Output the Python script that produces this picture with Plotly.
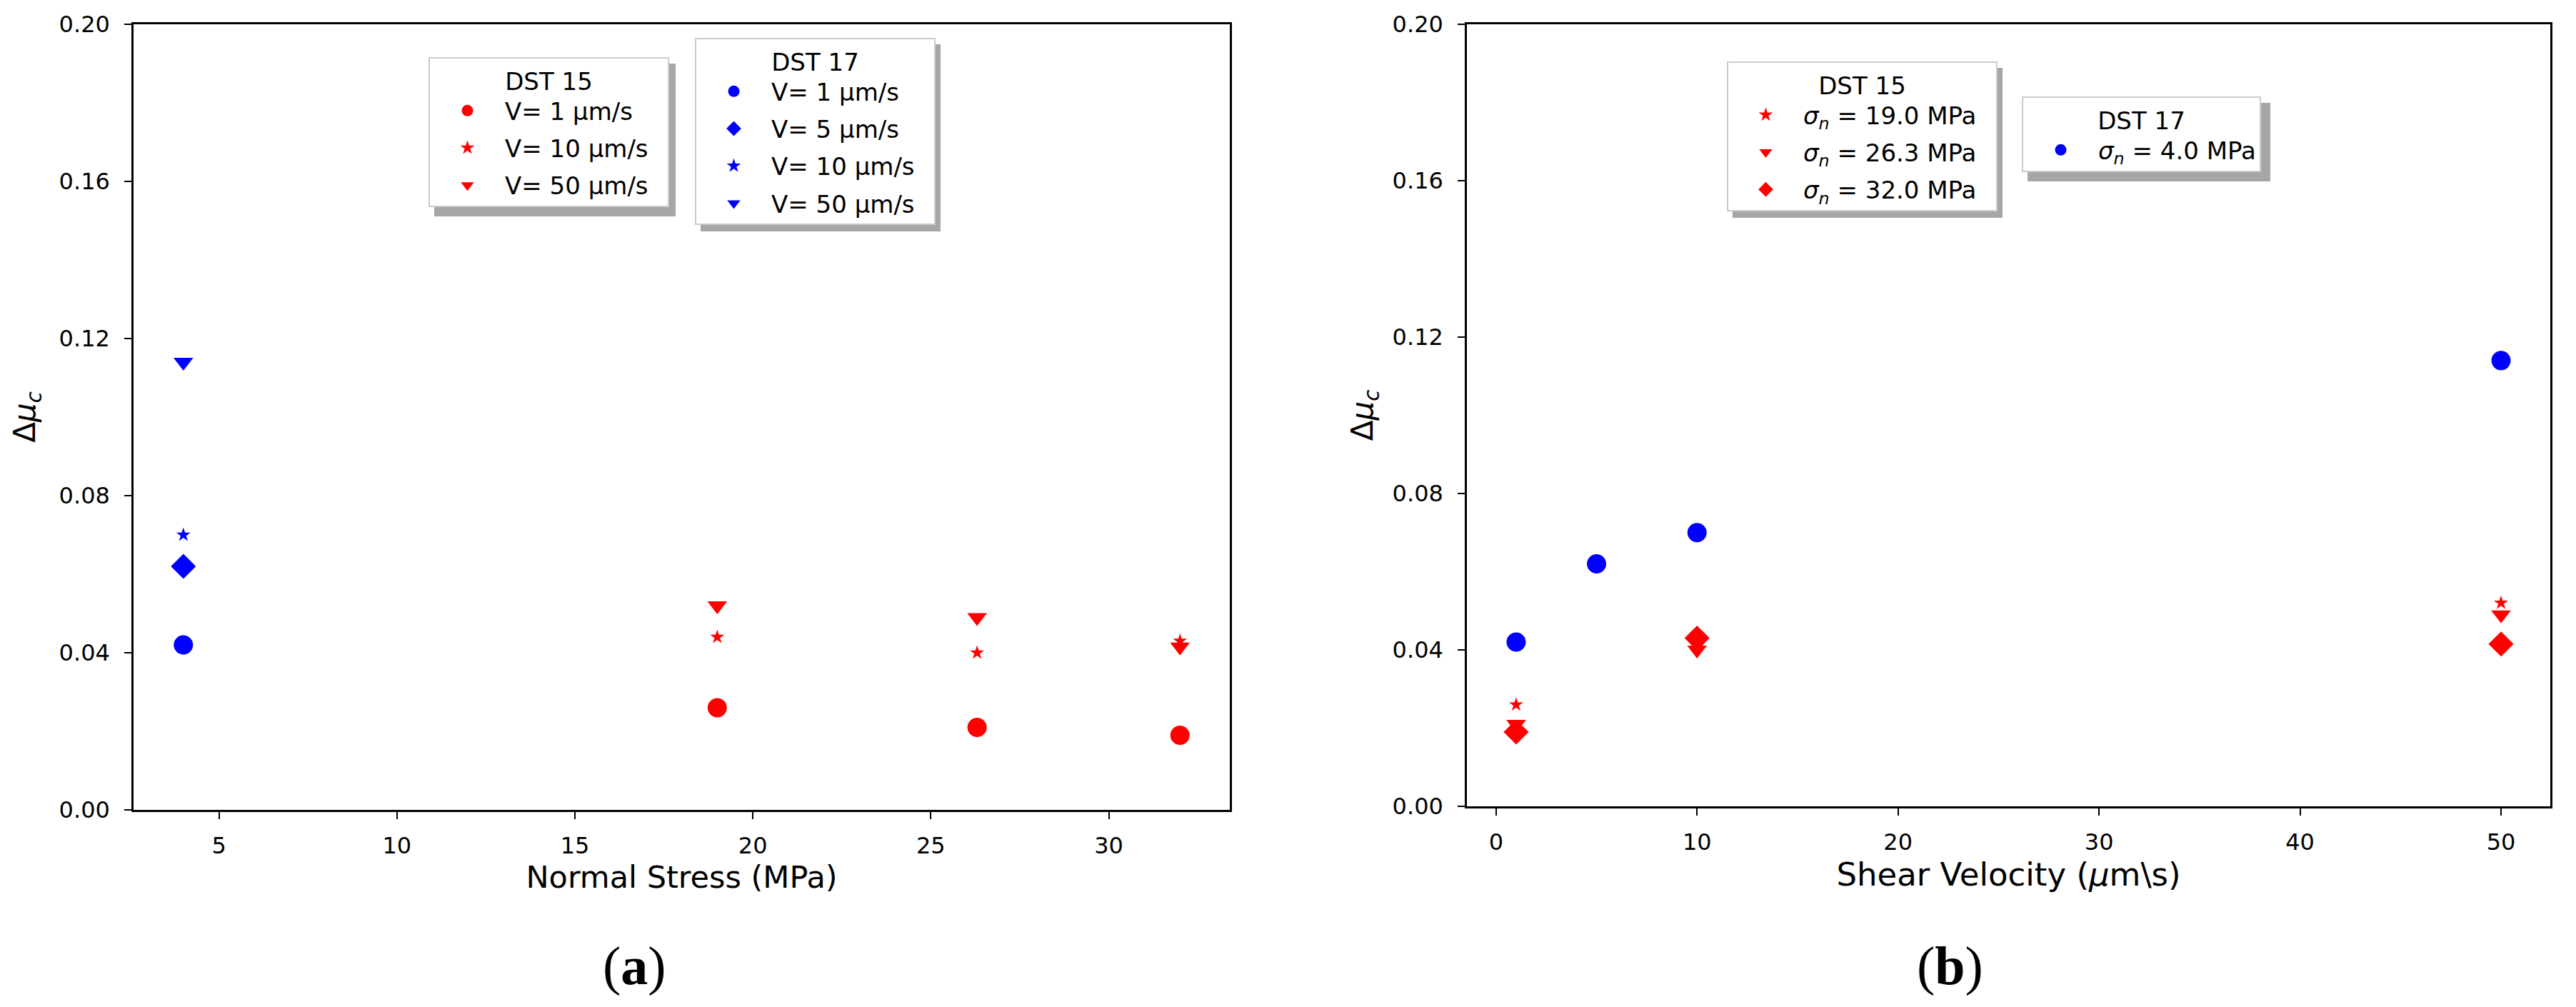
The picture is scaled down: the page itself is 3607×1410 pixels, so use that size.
import plotly.graph_objects as go

# DST 15 : normal stress levels and friction change at each shear velocity
stress_15 = [19.0, 26.3, 32.0]
velocity_15 = [1, 10, 50]
dmu_15_v1 = [0.026, 0.021, 0.019]
dmu_15_v10 = [0.044, 0.040, 0.043]
dmu_15_v50 = [0.052, 0.049, 0.0415]

# DST 17 : single normal stress, four velocities
stress_17 = 4.0
velocity_17 = [1, 5, 10, 50]
dmu_17 = [0.042, 0.062, 0.070, 0.114]

RED = "#ff0000"
BLUE = "#0000ff"
FONT = "DejaVu Sans"
PAD = "&nbsp;&nbsp;"  # a bit of right padding inside the legend boxes

# figure size and fixed margins (px); the page body adds an 8px offset
W, H = 3607, 1410
OFF = 8
ML, MR, MT, MB = 187 - OFF, 36 + OFF, 34 - OFF, 276 + OFF
PW, PH = W - ML - MR, H - MT - MB


def px(x):
    return (x - OFF - ML) / PW


def py(y):
    return (H - MB + OFF - y) / PH


fig = go.Figure()

# ---- panel (a): vs normal stress
v_labels = {1: "V= 1 µm/s", 5: "V= 5 µm/s", 10: "V= 10 µm/s", 50: "V= 50 µm/s"}
sym = {1: "circle", 5: "diamond", 10: "star", 50: "triangle-down"}
size = {"circle": 27, "diamond": 27, "star": 15, "triangle-down": 24}

for v, vals in zip(velocity_15, [dmu_15_v1, dmu_15_v10, dmu_15_v50]):
    fig.add_trace(go.Scatter(x=stress_15, y=vals, mode="markers", name=v_labels[v] + PAD,
                             marker=dict(color=RED, symbol=sym[v], size=size[sym[v]]),
                             xaxis="x", yaxis="y", legend="legend", legendgroup="a15_%d" % v))
for v, val in zip(velocity_17, dmu_17):
    fig.add_trace(go.Scatter(x=[stress_17], y=[val], mode="markers", name=v_labels[v] + PAD,
                             marker=dict(color=BLUE, symbol=sym[v], size=size[sym[v]]),
                             xaxis="x", yaxis="y", legend="legend2", legendgroup="a17_%d" % v))

# ---- panel (b): vs shear velocity
sig_sym = ["star", "triangle-down", "diamond"]
by_stress = list(zip(dmu_15_v1, dmu_15_v10, dmu_15_v50))
for s, sy, vals in zip(stress_15, sig_sym, by_stress):
    fig.add_trace(go.Scatter(x=velocity_15, y=list(vals), mode="markers",
                             name="<i>σ</i><sub><i>n</i></sub> = %.1f MPa" % s + PAD,
                             marker=dict(color=RED, symbol=sy, size=size[sy]),
                             xaxis="x2", yaxis="y2", legend="legend3", legendgroup="b15_%s" % s))
fig.add_trace(go.Scatter(x=velocity_17, y=dmu_17, mode="markers",
                         name="<i>σ</i><sub><i>n</i></sub> = %.1f MPa" % stress_17,
                         marker=dict(color=BLUE, symbol="circle", size=27),
                         xaxis="x2", yaxis="y2", legend="legend4", legendgroup="b17"))

ax_common = dict(showline=True, linecolor="black", linewidth=2.5, mirror=True,
                 ticks="outside", ticklen=10, tickwidth=2, tickcolor="black",
                 showgrid=False, zeroline=False, automargin=False,
                 tickfont=dict(family=FONT, size=32, color="black"))


def x_axis(dom, rng, dt, anchor, title, fsize, standoff):
    return dict(ax_common, domain=dom, range=rng, dtick=dt, anchor=anchor,
                ticklabelstandoff=10,
                title=dict(text=title, font=dict(family=FONT, size=fsize, color="black"),
                           standoff=standoff))


def y_axis(dom, anchor, standoff):
    return dict(ax_common, domain=dom, anchor=anchor, range=[0, 0.2], dtick=0.04,
                tickformat=".2f", ticklabelstandoff=14,
                title=dict(text="Δ<i>μ</i><sub><i>c</i></sub>",
                           font=dict(family=FONT, size=42, color="black"), standoff=standoff))


leg_common = dict(bgcolor="white", bordercolor="#cccccc", borderwidth=2,
                  font=dict(family=FONT, size=34, color="black"),
                  xanchor="left", yanchor="top", itemwidth=95,
                  traceorder="grouped", tracegroupgap=5)

# legend boxes: left, top (px) and approximate size for the drop shadow
boxes = {
    "legend": (600, 80, 338, 214, "DST 15"),
    "legend2": (973, 53, 336, 262, "DST 17"),
    "legend3": (2418, 86, 378, 210, "DST 15"),
    "legend4": (2831, 135, 340, 110, "DST 17"),
}

legends = {}
for key, (lx, ly, bw_, bh_, title) in boxes.items():
    legends[key] = dict(leg_common, x=px(lx), y=py(ly),
                        title=dict(text=title, side="top center",
                                   font=dict(family=FONT, size=34, color="black")))
    fig.add_shape(type="rect", xref="paper", yref="paper", layer="above",
                  x0=px(lx + 8), x1=px(lx + bw_ + 8),
                  y0=py(ly + bh_ + 9), y1=py(ly + 9),
                  fillcolor="#a6a6a6", line=dict(width=0))

fig.update_layout(
    width=W, height=H,
    margin=dict(l=ML, r=MR, t=MT, b=MB, autoexpand=False),
    paper_bgcolor="white", plot_bgcolor="white",
    xaxis=x_axis([px(187), px(1722)], [2.6, 33.4], 5, "y",
                 "Normal Stress (MPa)", 43, 6),
    yaxis=y_axis([py(1134), py(34)], "x", 20),
    xaxis2=x_axis([px(2054), px(3571)], [-1.45, 52.45], 10, "y2",
                  "Shear Velocity (<i>μ</i>m\\s)", 45, 8),
    yaxis2=y_axis([py(1129), py(34)], "x2", 14),
    showlegend=True,
    **legends,
)

# panel letters
for txt, xc in [("(<b>a</b>)", 888), ("(<b>b</b>)", 2730)]:
    fig.add_annotation(text=txt, x=px(xc), y=py(1352), xref="paper", yref="paper",
                       showarrow=False, xanchor="center", yanchor="middle",
                       font=dict(family="Liberation Serif", size=76, color="black"))

fig.write_html("out.html")
